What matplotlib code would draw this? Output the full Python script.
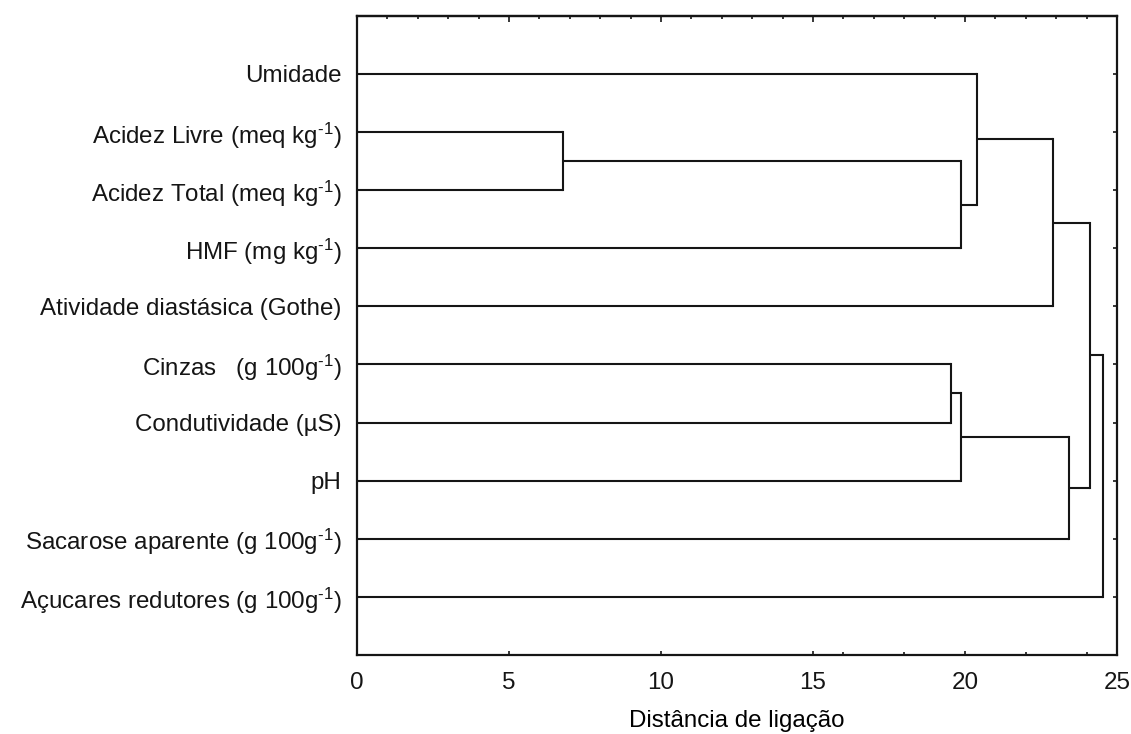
import matplotlib
matplotlib.use("Agg")
import matplotlib.pyplot as plt
from matplotlib.ticker import FixedLocator, NullFormatter

plt.rcParams['font.family'] = ['Liberation Sans', 'DejaVu Sans']
plt.rcParams['mathtext.fontset'] = 'custom'
plt.rcParams['mathtext.rm'] = 'Liberation Sans'
plt.rcParams['mathtext.it'] = 'Liberation Sans'
plt.rcParams['mathtext.default'] = 'regular'

# Leaves, top to bottom
labels = [
    "Umidade",
    "Acidez Livre (meq kg$^{\u2010 1}$)",
    "Acidez Total (meq kg$^{\u2010 1}$)",
    "HMF (mg kg$^{\u2010 1}$)",
    "Atividade diastásica (Gothe)",
    "Cinzas   (g 100g$^{\u2010 1}$)",
    "Condutividade (µS)",
    "pH",
    "Sacarose aparente (g 100g$^{\u2010 1}$)",
    "Açucares redutores (g 100g$^{\u2010 1}$)",
]

# Merges (node ids: leaves 0-9, new clusters numbered from 10)
merge_a = [1, 10, 0, 12, 5, 14, 15, 13, 17]
merge_b = [2, 3, 11, 4, 6, 7, 8, 16, 9]
merge_dist = [6.77, 19.88, 20.39, 22.91, 19.53, 19.88, 23.42, 24.10, 24.55]

xticks = [0, 5, 10, 15, 20, 25]
bottom_minor = [16, 18, 22, 24]
top_minor = [v for v in range(0, 26) if v % 5 != 0]

fig = plt.figure(figsize=(11.31, 7.34), dpi=100)
ax = fig.add_axes([357 / 1131, 1 - 655 / 734, (1117 - 357) / 1131, (655 - 15.7) / 734])

col = '#151515'
lw = 1.5
n = len(labels)
pos = {i: float(i) for i in range(n)}
height = {i: 0.0 for i in range(n)}
for k, (a, b, d) in enumerate(zip(merge_a, merge_b, merge_dist)):
    node = n + k
    for c in (a, b):
        ax.plot([height[c], d], [pos[c], pos[c]], color=col, lw=lw, solid_capstyle='butt')
    ax.plot([d, d], [pos[a], pos[b]], color=col, lw=lw, solid_capstyle='projecting')
    pos[node] = (pos[a] + pos[b]) / 2
    height[node] = d

ax.set_xlim(0, 25)
ax.set_ylim(n, -1)

fs = 17.4
ax.set_yticks(range(n))
ax.set_yticklabels(labels, fontsize=fs)
ax.set_xticks(xticks)
ax.set_xticklabels([str(v) for v in xticks], fontsize=fs)
ax.xaxis.set_minor_locator(FixedLocator(bottom_minor))
ax.tick_params(axis='x', which='major', direction='in', length=3.2, width=1.2, pad=12, colors=col)
ax.tick_params(axis='x', which='minor', direction='in', length=2.4, width=1.2, colors=col)
ax.tick_params(axis='y', which='major', direction='in', length=3, width=1.2, pad=11,
               left=True, right=True, colors=col)
ax.set_xlabel("Distância de ligação", fontsize=fs, labelpad=12)

top = ax.secondary_xaxis('top')
top.set_xticks(xticks)
top.xaxis.set_major_formatter(NullFormatter())
top.xaxis.set_minor_locator(FixedLocator(top_minor))
top.tick_params(which='major', direction='in', length=4.5, width=1.2, colors=col)
top.tick_params(which='minor', direction='in', length=2.4, width=1.2, colors=col)
top.spines['top'].set_linewidth(1.6)
top.spines['top'].set_color(col)

for s in ax.spines.values():
    s.set_linewidth(1.6)
    s.set_color(col)

fig.savefig("out.png", dpi=100)
